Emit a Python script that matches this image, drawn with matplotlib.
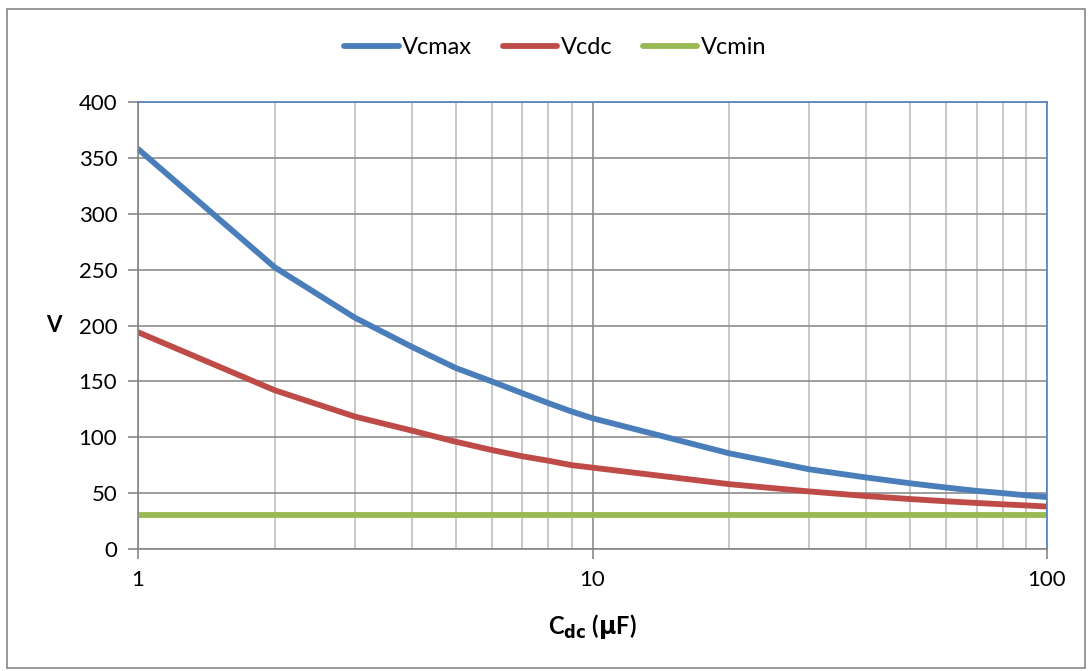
import matplotlib
matplotlib.use("Agg")
import matplotlib.pyplot as plt
from matplotlib.patches import Rectangle
from matplotlib.ticker import FixedLocator, NullFormatter

# capacitance values (uF)
cdc = [1, 2, 3, 4, 5, 6, 7, 8, 9, 10, 20, 30, 40, 50, 60, 70, 80, 90, 100]
# voltages
vcmax = [358, 252, 207, 181, 162, 150, 139.5, 130.5, 123, 117,
         85.6, 71.3, 64, 58.8, 55, 52, 50, 48, 46.5]
vcdc = [194, 142, 118.5, 106, 96, 88.6, 83, 79, 75, 72.8,
        58, 51.5, 47.4, 44.7, 42.7, 41.2, 40, 39, 38]
vcmin = [30] * len(cdc)

x_ticks = [1, 10, 100]
y_ticks = [0, 50, 100, 150, 200, 250, 300, 350, 400]

plt.rcParams['font.family'] = ['Lato', 'DejaVu Sans']

fig = plt.figure(figsize=(10.89, 6.71), dpi=100)
ax = fig.add_axes([138 / 1089, 1 - 549 / 671, (1047 - 138) / 1089, (549 - 102) / 671])

# outer chart border
fig.patches.append(Rectangle((7 / 1089, 3 / 671), 1 - 11 / 1089, 1 - 12 / 671,
                             transform=fig.transFigure, fill=False,
                             edgecolor='#868686', linewidth=1.2))

ax.plot(cdc, vcmax, color='#4A7EBB', lw=4.2, label='Vcmax', solid_capstyle='round')
ax.plot(cdc, vcdc, color='#BE4B48', lw=4.2, label='Vcdc', solid_capstyle='round')
ax.plot(cdc, vcmin, color='#98B954', lw=4.2, label='Vcmin', solid_capstyle='round')

ax.set_xscale('log')
ax.set_xlim(1, 100)
ax.set_ylim(0, 400)
ax.xaxis.set_major_locator(FixedLocator(x_ticks))
ax.set_xticklabels([str(t) for t in x_ticks])
ax.xaxis.set_minor_locator(FixedLocator([2, 3, 4, 5, 6, 7, 8, 9, 20, 30, 40, 50, 60, 70, 80, 90]))
ax.xaxis.set_minor_formatter(NullFormatter())
ax.set_yticks(y_ticks)

ax.grid(True, which='major', axis='both', color='#8C8C8C', lw=1.2)
ax.grid(True, which='minor', axis='x', color='#BFBFBF', lw=1.2)
ax.set_axisbelow(True)

ax.tick_params(axis='both', which='major', direction='out', length=7, width=1.2,
               color='#868686', labelsize=16, pad=8)
ax.tick_params(axis='x', which='minor', length=0)

for s in ['left', 'bottom']:
    ax.spines[s].set_color('#868686')
    ax.spines[s].set_linewidth(1.2)
for s in ['top', 'right']:
    ax.spines[s].set_color('#4F81BD')
    ax.spines[s].set_linewidth(1.2)

ax.set_ylabel('V', fontsize=16, fontweight='bold', rotation=0, labelpad=18, va='center')
ax.set_xlabel(r'C$_{\mathbf{dc}}$ ($\mathbf{\mu}$F)', fontsize=17, fontweight='bold', labelpad=16)

handles, labels = ax.get_legend_handles_labels()
fig.legend(handles, labels, loc='center', bbox_to_anchor=(0.51, 1 - 48 / 671), ncol=3,
           frameon=False, fontsize=17, handlelength=2.3, columnspacing=1.3,
           handletextpad=0.15)

fig.savefig('out.png', dpi=100)
